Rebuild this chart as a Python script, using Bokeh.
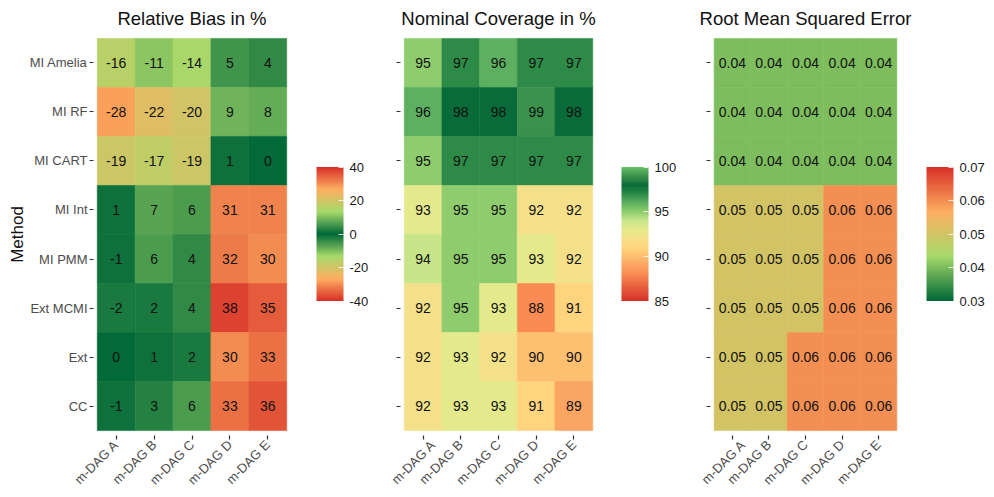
import math
from bokeh.plotting import figure
from bokeh.models import (ColumnDataSource, LinearColorMapper, ColorBar,
                          FixedTicker, FactorRange, CustomLabelingPolicy)
from bokeh.layouts import row
from bokeh.embed import file_html
from bokeh.resources import INLINE
from bokeh.core.properties import value

FONT = "Liberation Sans"

methods = ["MI Amelia", "MI RF", "MI CART", "MI Int", "MI PMM", "Ext MCMI", "Ext", "CC"]
dags = ["m-DAG A", "m-DAG B", "m-DAG C", "m-DAG D", "m-DAG E"]

# rows follow `methods`, columns follow `dags`
rel_bias = [
    [-16, -11, -14, 5, 4],
    [-28, -22, -20, 9, 8],
    [-19, -17, -19, 1, 0],
    [1, 7, 6, 31, 31],
    [-1, 6, 4, 32, 30],
    [-2, 2, 4, 38, 35],
    [0, 1, 2, 30, 33],
    [-1, 3, 6, 33, 36],
]
coverage = [
    [95, 97, 96, 97, 97],
    [96, 98, 98, 99, 98],
    [95, 97, 97, 97, 97],
    [93, 95, 95, 92, 92],
    [94, 95, 95, 93, 92],
    [92, 95, 93, 88, 91],
    [92, 93, 92, 90, 90],
    [92, 93, 93, 91, 89],
]
rmse = [
    [0.04, 0.04, 0.04, 0.04, 0.04],
    [0.04, 0.04, 0.04, 0.04, 0.04],
    [0.04, 0.04, 0.04, 0.04, 0.04],
    [0.05, 0.05, 0.05, 0.06, 0.06],
    [0.05, 0.05, 0.05, 0.06, 0.06],
    [0.05, 0.05, 0.05, 0.06, 0.06],
    [0.05, 0.05, 0.06, 0.06, 0.06],
    [0.05, 0.05, 0.06, 0.06, 0.06],
]

titles = ["Relative Bias in %", "Nominal Coverage in %", "Root Mean Squared Error"]
bias_ticks = [-40, -20, 0, 20, 40]
cov_ticks = [85, 90, 95, 100]
rmse_ticks = [0.03, 0.04, 0.05, 0.06, 0.07]
rmse_tick_labels = ["0.03", "0.04", "0.05", "0.06", "0.07"]


def hex2rgb(h):
    h = h.lstrip("#")
    return [int(h[i:i + 2], 16) for i in (0, 2, 4)]


def ramp(stop_vals, stop_cols, lo, hi, n=256):
    rgbs = [hex2rgb(c) for c in stop_cols]
    out = []
    for k in range(n):
        v = lo + (hi - lo) * k / (n - 1)
        j = 0
        while j < len(stop_vals) - 2 and v > stop_vals[j + 1]:
            j += 1
        a, b = stop_vals[j], stop_vals[j + 1]
        t = min(max((v - a) / (b - a), 0), 1)
        c = [round(rgbs[j][i] + (rgbs[j + 1][i] - rgbs[j][i]) * t) for i in range(3)]
        out.append("#%02x%02x%02x" % tuple(c))
    return out


bias_cols = ["#d73027", "#fdae61", "#a6d96a", "#006837", "#a6d96a", "#fdae61", "#d73027"]
bias_pal = ramp([-40 + 80 * i / 6 for i in range(7)], bias_cols, -40, 40)
cov_pal = ramp([85, 88, 90, 91, 92, 93, 94, 95, 96, 97, 98, 99, 100],
               ["#d73027", "#f98b53", "#fdbf70", "#fed47f", "#f5e08a", "#e4ea8c",
                "#c8e58a", "#8fcc6e", "#5cb060", "#2e8a47", "#0a6b3a", "#3a914c",
                "#66bd63"], 85, 100)
rmse_pal = ramp([0.03 + 0.04 * i / 3 for i in range(4)],
                ["#006837", "#a6d96a", "#fdae61", "#d73027"], 0.03, 0.07)

TOP, BOTTOM, H = 32, 62, 497


def panel(title, data, fmt, pal, lo, hi, ticks, tick_labels, ylabels,
          width, left, right, bar_gap):
    xs, ys, vals, labs = [], [], [], []
    for i, m in enumerate(methods):
        for j, d in enumerate(dags):
            xs.append(d)
            ys.append(m)
            vals.append(data[i][j])
            labs.append(fmt(data[i][j]))
    src = ColumnDataSource(dict(x=xs, y=ys, v=vals, lab=labs))
    mapper = LinearColorMapper(palette=pal, low=lo, high=hi)
    p = figure(width=width, height=H, output_backend="svg", toolbar_location=None,
               x_range=FactorRange(factors=dags, range_padding=0.1,
                                   range_padding_units="absolute"),
               y_range=FactorRange(factors=methods[::-1], range_padding=0.1,
                                   range_padding_units="absolute"),
               min_border_left=left, min_border_right=right,
               min_border_top=TOP, min_border_bottom=BOTTOM)
    p.rect(x="x", y="y", width=1, height=1, source=src,
           fill_color={"field": "v", "transform": mapper},
           line_color={"field": "v", "transform": mapper}, line_width=0.6)
    p.text(x="x", y="y", text="lab", source=src, text_align="center",
           text_baseline="middle", text_font=value(FONT),
           text_font_size=value("14px"), text_color="#111111")
    p.title.text = title
    p.title.align = "center"
    p.title.text_font = FONT
    p.title.text_font_size = "18.5px"
    p.title.text_font_style = "normal"
    p.title.text_color = "#111111"
    p.title.standoff = 10
    p.outline_line_color = None
    p.xgrid.grid_line_color = None
    p.ygrid.grid_line_color = None
    for ax in (p.xaxis[0], p.yaxis[0]):
        ax.axis_line_color = None
        ax.major_tick_line_color = "#333333"
        ax.major_tick_out = 4
        ax.major_tick_in = 0
        ax.major_tick_line_width = 1.2
        ax.major_label_text_font = FONT
        ax.major_label_text_font_size = "13px"
        ax.major_label_text_color = "#4d4d4d"
        ax.major_label_standoff = 2
    p.xaxis.major_label_orientation = math.pi / 4
    p.xaxis.major_label_standoff = 3
    if ylabels:
        p.yaxis.axis_label = "Method"
        p.yaxis.axis_label_text_font = FONT
        p.yaxis.axis_label_text_font_size = "17px"
        p.yaxis.axis_label_text_font_style = "normal"
        p.yaxis.axis_label_text_color = "#111111"
        p.yaxis.axis_label_standoff = 0
    else:
        # tick marks only, as in the reference (labels shown once, on the left)
        p.yaxis.major_label_text_font_size = "0px"
        p.yaxis.major_label_policy = CustomLabelingPolicy(code="return new Set()")
    frame_w = width - left - right
    frame_h = H - TOP - BOTTOM
    bar_h = 134
    cb = ColorBar(color_mapper=mapper, ticker=FixedTicker(ticks=ticks),
                  major_label_overrides={t: l for t, l in zip(ticks, tick_labels)},
                  width=27, height=bar_h,
                  location=(frame_w + bar_gap, (frame_h - bar_h) / 2),
                  margin=0, padding=0, label_standoff=6,
                  major_label_text_font=FONT, major_label_text_font_size="13px",
                  major_label_text_color="#1a1a1a",
                  major_tick_line_color="white", major_tick_line_alpha=0.8,
                  major_tick_in=5, major_tick_out=0,
                  minor_tick_line_color=None, bar_line_color=None,
                  border_line_color=None, background_fill_color=None)
    p.add_layout(cb, "center")
    return p


p1 = panel(titles[0], rel_bias, lambda v: "%d" % v, bias_pal, -40, 40,
           bias_ticks, [str(t) for t in bias_ticks], True, 388, 93, 98, 26)
p2 = panel(titles[1], coverage, lambda v: "%d" % v, cov_pal, 85, 100,
           cov_ticks, [str(t) for t in cov_ticks], False, 310, 12, 102, 25)
p3 = panel(titles[2], rmse, lambda v: "%.2f" % v, rmse_pal, 0.03, 0.07,
           rmse_ticks, rmse_tick_labels, False, 296, 12, 94, 26)

layout = row(p1, p2, p3)
open("out.html", "w").write(file_html(layout, INLINE))
